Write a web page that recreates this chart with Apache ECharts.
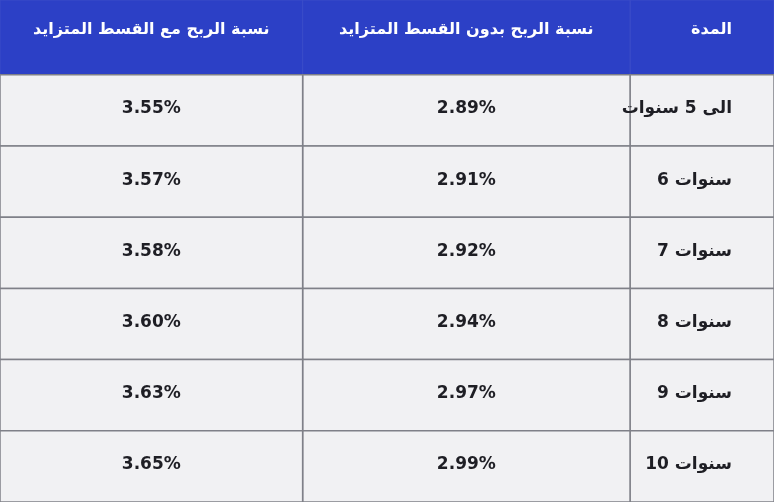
<!DOCTYPE html>
<html><head><meta charset="utf-8">
<script src="https://cdn.jsdelivr.net/npm/echarts@6/dist/echarts.min.js"></script>
<style>html,body{margin:0;padding:0;background:#f2f2f4}#c{width:774px;height:502px}</style>
</head><body><div id="c"></div>
<script>
var headers = ["المدة", "نسبة الربح بدون القسط المتزايد", "نسبة الربح مع القسط المتزايد"];
var durations = ["الى 5 سنوات", "6 سنوات", "7 سنوات", "8 سنوات", "9 سنوات", "10 سنوات"];
var rateWithout = ["2.89%", "2.91%", "2.92%", "2.94%", "2.97%", "2.99%"];
var rateWith = ["3.55%", "3.57%", "3.58%", "3.60%", "3.63%", "3.65%"];

var cells = [];
headers.forEach(function(h, c){ cells.push([0, c, h]); });
durations.forEach(function(d, i){
  cells.push([i+1, 0, d]); cells.push([i+1, 1, rateWithout[i]]); cells.push([i+1, 2, rateWith[i]]);
});
var chart = echarts.init(document.getElementById('c'));
chart.setOption({
  backgroundColor: '#f2f2f4',
  xAxis: {show:false}, yAxis: {show:false},
  series: [{
    type: 'custom', coordinateSystem: 'none', data: cells,
    renderItem: function(params, api){
      var W = api.getWidth(), H = api.getHeight();
      var r = api.value(0), c = api.value(1), txt = cells[params.dataIndex][2];
      var bounds = [W, W*0.814, W*0.391, 0];
      var hh = H*0.149, rh = (H-hh)/6;
      var x1 = bounds[c+1], x2 = bounds[c];
      var y = r===0 ? 0 : hh + (r-1)*rh, h = r===0 ? hh : rh;
      var isHead = r===0;
      var tx, align;
      if (c===0) { tx = x2 - 42; align = 'right'; }
      else { tx = (x1+x2)/2; align='center'; }
      return {type:'group', children:[
        {type:'rect', z2:0, shape:{x:x1,y:y,width:x2-x1,height:h},
         style:{fill: isHead ? '#2c40c6' : '#f1f1f3', stroke: isHead ? '#3a4cc8' : '#7f8088', lineWidth: isHead?1:1.5}},
        {type:'text', z2:10, style:{x:tx, y: isHead ? y+h*0.5 - 8 : y+h*0.48, text: txt, align: align, verticalAlign:'middle',
          fill: isHead ? '#ffffff' : '#1e1e24', font: (isHead?'bold 16px':'bold 17px')+' "DejaVu Sans", sans-serif'}}
      ]};
    }
  }]
});
</script></body></html>
